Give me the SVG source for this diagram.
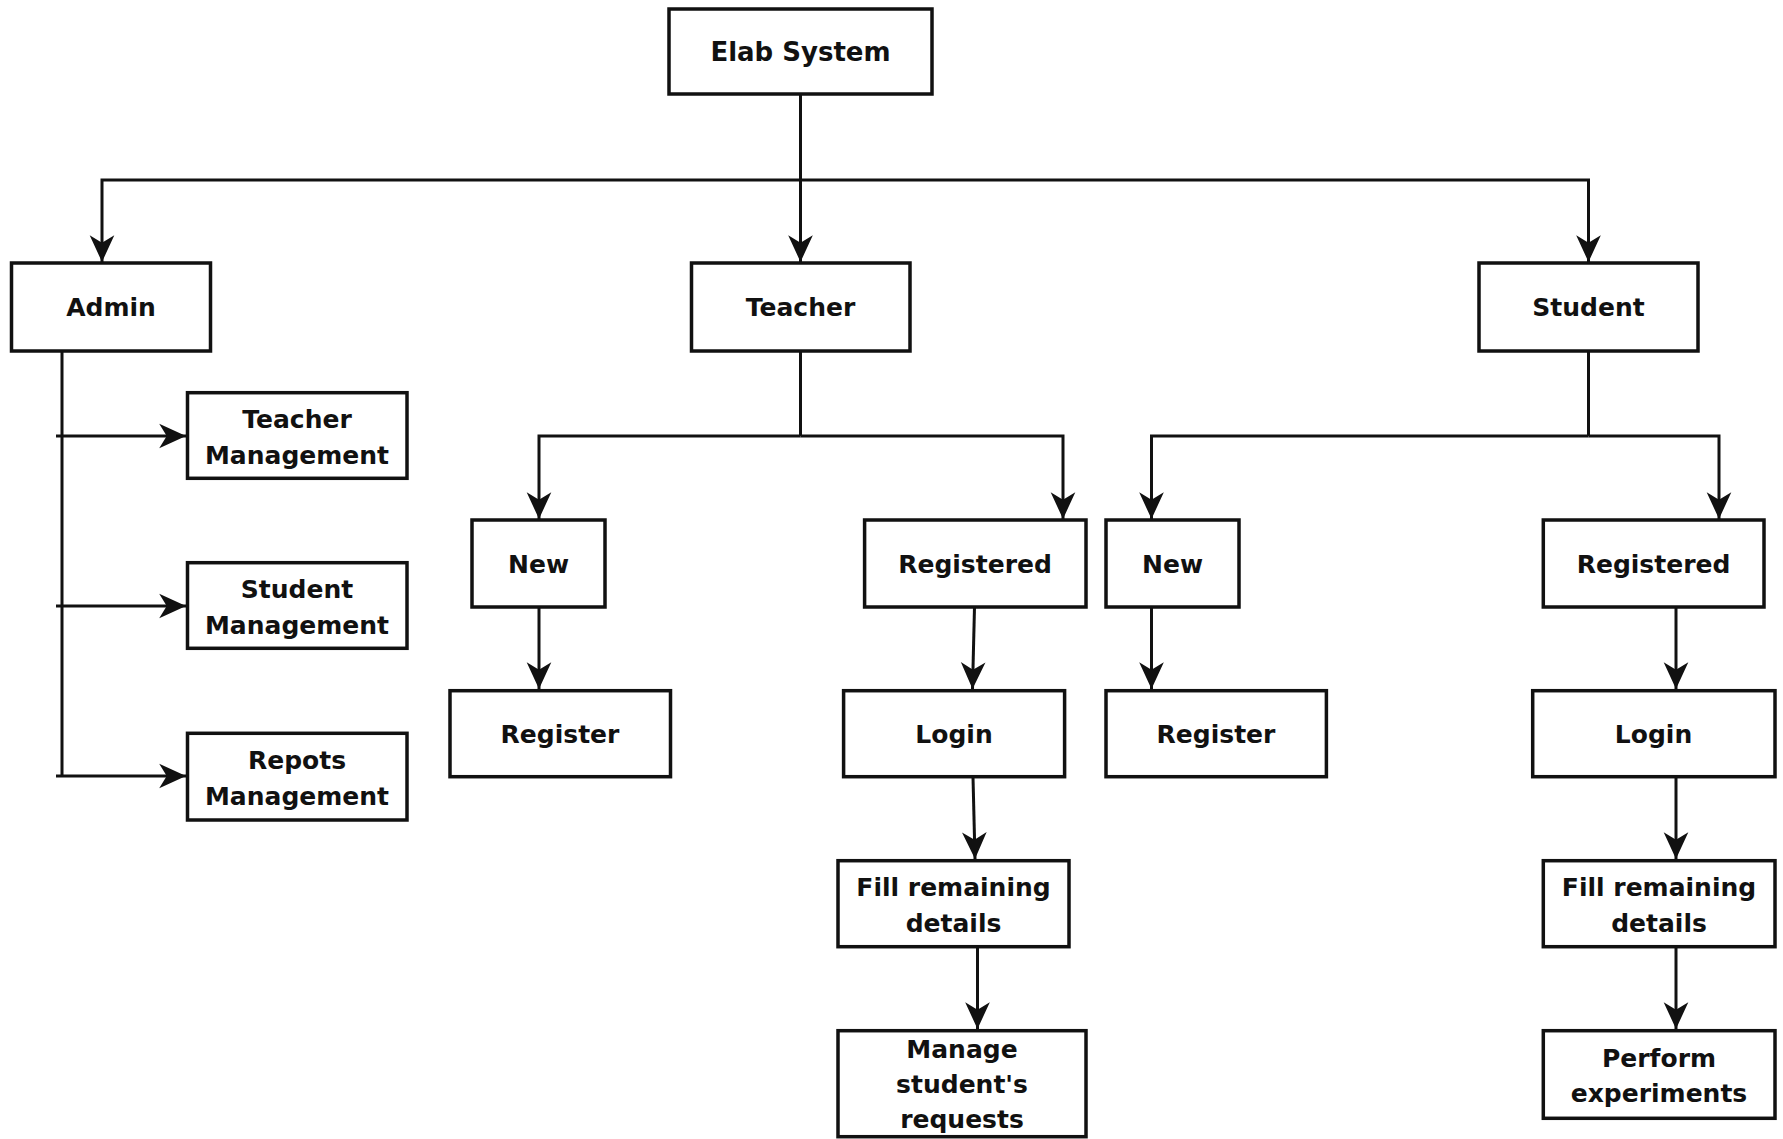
<svg xmlns="http://www.w3.org/2000/svg" width="1783" height="1139" viewBox="0 0 1783 1139">
<style>
.box{fill:#fff;stroke:#111;stroke-width:3.5}
.t{font-family:"DejaVu Sans",Verdana,sans-serif;font-weight:bold;font-size:25px;fill:#111;text-anchor:middle}
.c{fill:none;stroke:#111;stroke-width:3;marker-end:url(#ah)}
.l{fill:none;stroke:#111;stroke-width:3}
</style>
<defs>
<marker id="ah" markerUnits="userSpaceOnUse" markerWidth="30" markerHeight="30" viewBox="-26 -13 28 26" refX="0" refY="0" orient="auto">
<path d="M0,0 L-25,-11.5 L-18,0 L-25,11.5 Z" fill="#111"/>
</marker>
</defs>
<rect width="1783" height="1139" fill="#fff"/>
<g id="connectors">
<path class="c" d="M800.5,94 V262"/>
<path class="c" d="M800.5,180 H102 V262"/>
<path class="c" d="M800.5,180 H1588.5 V262"/>
<path class="l" d="M62,351 V776"/>
<path class="c" d="M56,436 H186"/>
<path class="c" d="M56,606 H186"/>
<path class="c" d="M56,776 H186"/>
<path class="l" d="M800.5,351 V436"/>
<path class="c" d="M800.5,436 H539 V519"/>
<path class="c" d="M800.5,436 H1063 V519"/>
<path class="c" d="M539,607 V689"/>
<path class="c" d="M974.5,607 L972.5,689"/>
<path class="c" d="M973,777 L975,859"/>
<path class="c" d="M977.5,947 V1029"/>
<path class="l" d="M1588.5,351 V436"/>
<path class="c" d="M1588.5,436 H1151.5 V519"/>
<path class="c" d="M1588.5,436 H1719 V519"/>
<path class="c" d="M1151.5,607 V689"/>
<path class="c" d="M1676,607 V689"/>
<path class="c" d="M1676,777 V859"/>
<path class="c" d="M1676,947 V1029"/>
</g>
<g id="elab"><rect class="box" x="669" y="9" width="263" height="85"/><text class="t" x="800.5" y="61" style="font-size:26px">Elab System</text></g>
<g id="admin"><rect class="box" x="11.5" y="263" width="199" height="88"/><text class="t" x="111" y="316">Admin</text></g>
<g id="teacher"><rect class="box" x="691.5" y="263" width="218.5" height="88"/><text class="t" x="800.5" y="316">Teacher</text></g>
<g id="student"><rect class="box" x="1479" y="263" width="219" height="88"/><text class="t" x="1588.5" y="316">Student</text></g>
<g id="teacherMgmt"><rect class="box" x="187.5" y="392.7" width="219.5" height="85.6"/><text class="t" x="297" y="428">Teacher</text><text class="t" x="297" y="464">Management</text></g>
<g id="studentMgmt"><rect class="box" x="187.5" y="562.7" width="219.5" height="85.6"/><text class="t" x="297" y="598">Student</text><text class="t" x="297" y="634">Management</text></g>
<g id="reportsMgmt"><rect class="box" x="187.5" y="733.3" width="219.5" height="86.7"/><text class="t" x="297" y="769">Repots</text><text class="t" x="297" y="805">Management</text></g>
<g id="tNew"><rect class="box" x="472" y="520" width="133" height="87"/><text class="t" x="538.5" y="573">New</text></g>
<g id="tRegister"><rect class="box" x="450" y="690.7" width="220.5" height="86"/><text class="t" x="560" y="743">Register</text></g>
<g id="tRegistered"><rect class="box" x="864.6" y="520" width="221.4" height="87"/><text class="t" x="975" y="573">Registered</text></g>
<g id="tLogin"><rect class="box" x="843.6" y="690.7" width="221" height="86"/><text class="t" x="954" y="743">Login</text></g>
<g id="tFill"><rect class="box" x="838" y="860.7" width="231" height="86"/><text class="t" x="953.5" y="896">Fill remaining</text><text class="t" x="953.5" y="932">details</text></g>
<g id="tManage"><rect class="box" x="838" y="1030.7" width="248" height="106"/><text class="t" x="962" y="1058">Manage</text><text class="t" x="962" y="1093">student's</text><text class="t" x="962" y="1128">requests</text></g>
<g id="sNew"><rect class="box" x="1106" y="520" width="133" height="87"/><text class="t" x="1172.5" y="573">New</text></g>
<g id="sRegister"><rect class="box" x="1106" y="690.7" width="220.4" height="86"/><text class="t" x="1216" y="743">Register</text></g>
<g id="sRegistered"><rect class="box" x="1543.3" y="520" width="220.7" height="87"/><text class="t" x="1653.5" y="573">Registered</text></g>
<g id="sLogin"><rect class="box" x="1532.7" y="690.7" width="242.3" height="86"/><text class="t" x="1653.5" y="743">Login</text></g>
<g id="sFill"><rect class="box" x="1543.3" y="860.7" width="231.7" height="86"/><text class="t" x="1659" y="896">Fill remaining</text><text class="t" x="1659" y="932">details</text></g>
<g id="sPerform"><rect class="box" x="1543.3" y="1030.7" width="231.7" height="87.6"/><text class="t" x="1659" y="1067">Perform</text><text class="t" x="1659" y="1102">experiments</text></g>
</svg>
